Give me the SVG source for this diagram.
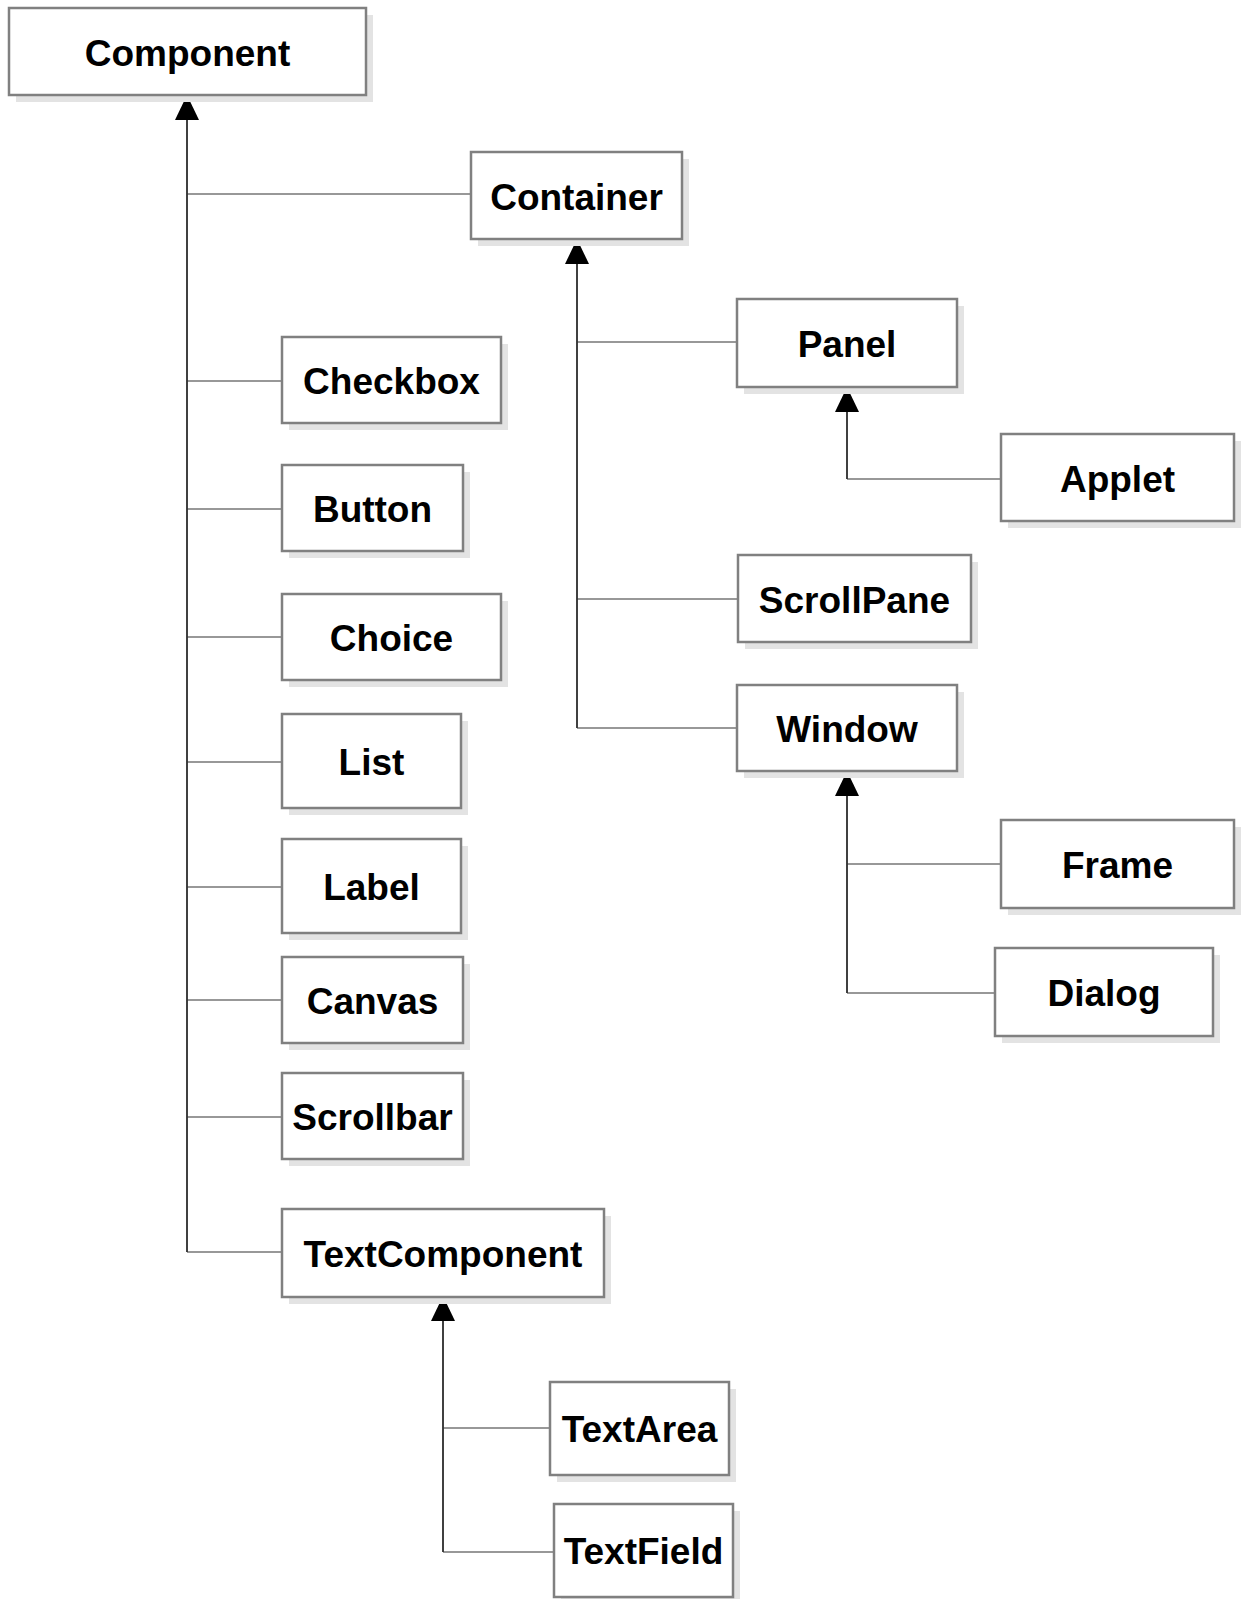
<svg xmlns="http://www.w3.org/2000/svg" width="1244" height="1599" viewBox="0 0 1244 1599">
<style>
.shadow{fill:#e3e3e3;stroke:none}
.box{fill:#ffffff;stroke:#808080;stroke-width:2.5}
.lbl{font-family:"Liberation Sans",Arial,sans-serif;font-weight:bold;font-size:37px;fill:#000;text-anchor:middle}
.trunk{stroke:#000;stroke-width:1.5;fill:none}
.branch{stroke:#333;stroke-width:1.2;fill:none}
.head{fill:#000;stroke:none}
</style>
<rect width="1244" height="1599" fill="#ffffff"/>
<g id="connectors">
  <path class="trunk" d="M187,118 V1252"/>
  <polygon class="head" points="187,95 175,120 199,120"/>
  <path class="branch" d="M187,194 H471 M187,381 H282 M187,509 H282 M187,637 H282 M187,762 H282 M187,887 H282 M187,1000 H282 M187,1117 H282 M187,1252 H282"/>
  <path class="trunk" d="M577,261 V728"/>
  <polygon class="head" points="577,239 565,264 589,264"/>
  <path class="branch" d="M577,342 H737 M577,599 H738 M577,728 H737"/>
  <path class="trunk" d="M847,409 V479"/>
  <polygon class="head" points="847,387 835,412 859,412"/>
  <path class="branch" d="M847,479 H1001"/>
  <path class="trunk" d="M847,795 V993"/>
  <polygon class="head" points="847,771 835,796 859,796"/>
  <path class="branch" d="M847,864 H1001 M847,993 H995"/>
  <path class="trunk" d="M443,1319 V1552"/>
  <polygon class="head" points="443,1296 431,1321 455,1321"/>
  <path class="branch" d="M443,1428 H550 M443,1552 H554"/>
</g>
<g id="Component"><rect class="shadow" x="16" y="15" width="357" height="87"/><rect class="box" x="9" y="8" width="357" height="87"/><text class="lbl" x="187.5" y="66">Component</text></g>
<g id="Container"><rect class="shadow" x="478" y="159" width="211" height="87"/><rect class="box" x="471" y="152" width="211" height="87"/><text class="lbl" x="576.5" y="210">Container</text></g>
<g id="Checkbox"><rect class="shadow" x="289" y="344" width="219" height="86"/><rect class="box" x="282" y="337" width="219" height="86"/><text class="lbl" x="391.5" y="394">Checkbox</text></g>
<g id="Button"><rect class="shadow" x="289" y="472" width="181" height="86"/><rect class="box" x="282" y="465" width="181" height="86"/><text class="lbl" x="372.5" y="522">Button</text></g>
<g id="Choice"><rect class="shadow" x="289" y="601" width="219" height="86"/><rect class="box" x="282" y="594" width="219" height="86"/><text class="lbl" x="391.5" y="651">Choice</text></g>
<g id="List"><rect class="shadow" x="289" y="721" width="179" height="94"/><rect class="box" x="282" y="714" width="179" height="94"/><text class="lbl" x="371.5" y="775">List</text></g>
<g id="Label"><rect class="shadow" x="289" y="846" width="179" height="94"/><rect class="box" x="282" y="839" width="179" height="94"/><text class="lbl" x="371.5" y="900">Label</text></g>
<g id="Canvas"><rect class="shadow" x="289" y="964" width="181" height="86"/><rect class="box" x="282" y="957" width="181" height="86"/><text class="lbl" x="372.5" y="1014">Canvas</text></g>
<g id="Scrollbar"><rect class="shadow" x="289" y="1080" width="181" height="86"/><rect class="box" x="282" y="1073" width="181" height="86"/><text class="lbl" x="372.5" y="1130">Scrollbar</text></g>
<g id="TextComponent"><rect class="shadow" x="289" y="1216" width="322" height="88"/><rect class="box" x="282" y="1209" width="322" height="88"/><text class="lbl" x="443" y="1267">TextComponent</text></g>
<g id="Panel"><rect class="shadow" x="744" y="306" width="220" height="88"/><rect class="box" x="737" y="299" width="220" height="88"/><text class="lbl" x="847" y="357">Panel</text></g>
<g id="Applet"><rect class="shadow" x="1008" y="441" width="233" height="87"/><rect class="box" x="1001" y="434" width="233" height="87"/><text class="lbl" x="1117.5" y="492">Applet</text></g>
<g id="ScrollPane"><rect class="shadow" x="745" y="562" width="233" height="87"/><rect class="box" x="738" y="555" width="233" height="87"/><text class="lbl" x="854.5" y="613">ScrollPane</text></g>
<g id="Window"><rect class="shadow" x="744" y="692" width="220" height="86"/><rect class="box" x="737" y="685" width="220" height="86"/><text class="lbl" x="847" y="742">Window</text></g>
<g id="Frame"><rect class="shadow" x="1008" y="827" width="233" height="88"/><rect class="box" x="1001" y="820" width="233" height="88"/><text class="lbl" x="1117.5" y="878">Frame</text></g>
<g id="Dialog"><rect class="shadow" x="1002" y="955" width="218" height="88"/><rect class="box" x="995" y="948" width="218" height="88"/><text class="lbl" x="1104" y="1006">Dialog</text></g>
<g id="TextArea"><rect class="shadow" x="557" y="1389" width="179" height="93"/><rect class="box" x="550" y="1382" width="179" height="93"/><text class="lbl" x="639.5" y="1442">TextArea</text></g>
<g id="TextField"><rect class="shadow" x="561" y="1511" width="179" height="93"/><rect class="box" x="554" y="1504" width="179" height="93"/><text class="lbl" x="643.5" y="1564">TextField</text></g>
</svg>
